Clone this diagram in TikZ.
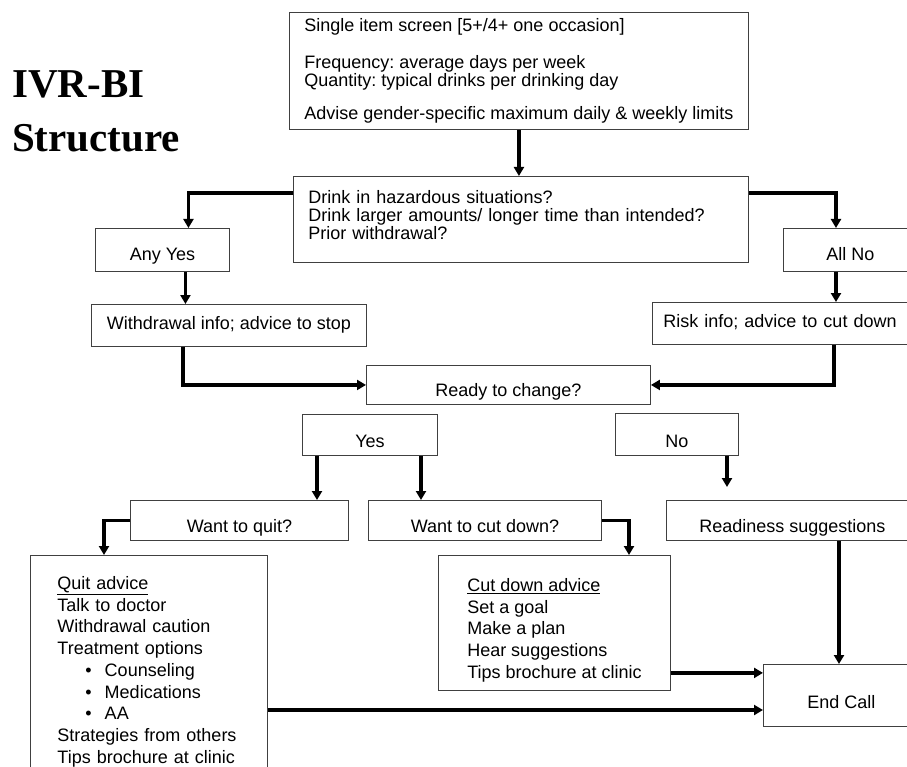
\documentclass[tikz,border=0pt]{standalone}
\usepackage{fontspec}
\usetikzlibrary{arrows.meta}
\newfontfamily\arialfont{Liberation Sans}
\newfontfamily\timesfont{Liberation Serif}

\begin{document}
\begin{tikzpicture}[x=1pt, y=1pt,
  box/.style={draw=black!75, line width=0.9pt, anchor=north west, inner ysep=0pt,
    text depth=8pt, font=\arialfont\fontsize{18}{18}\selectfont\frenchspacing},
  listbox/.style={box, align=left, font=\arialfont\fontsize{18}{21.75}\selectfont\frenchspacing},
  arr/.style={line width=3.3pt, -{Triangle[length=9pt,width=10pt]}},
  title/.style={anchor=base west, align=left, inner sep=0pt,
    font=\timesfont\bfseries\fontsize{41}{54}\selectfont}]
 \useasboundingbox (0,0) rectangle (907,-767);
 \clip (0,0) rectangle (907,-767);

 \node[title] (title) at (12,-152) {IVR-BI\\Structure};

 \node[box, align=left, minimum width=459pt, text height=107pt, text depth=10pt] (screen) at (289,-12)
   {Single item screen [5+/4+ one occasion]\\[19pt]
    Frequency: average days per week\\
    Quantity: typical drinks per drinking day\\[15pt]
    Advise gender-specific maximum daily \& weekly limits};
 \node[box, align=left, text width=425pt, inner xsep=15pt, text height=27pt, text depth=59pt] (hazard) at (293,-176)
   {Drink in hazardous situations?\\
    Drink larger amounts/ longer time than intended?\\
    Prior withdrawal?};

 \node[box, minimum width=134pt, text height=32pt, text depth=11pt] (anyyes) at (95,-228) {Any Yes};
 \node[box, minimum width=134pt, text height=32pt, text depth=11pt] (allno)  at (783,-228) {All No};
 \node[box, minimum width=275pt, text height=25pt, text depth=17pt] (withdraw) at (91,-304) {Withdrawal info; advice to stop};
 \node[box, align=left, text width=256pt, inner xsep=11pt, text height=25pt, text depth=17pt] (risk) at (652,-302) {Risk info; advice to cut down};
 \node[box, minimum width=284pt, text height=31pt] (ready) at (366,-365) {Ready to change?};
 \node[box, minimum width=135pt, text height=33pt] (yes) at (302,-414) {Yes};
 \node[box, minimum width=123pt, text height=34pt] (no)  at (615,-413) {No};
 \node[box, minimum width=218pt, text height=32pt] (wquit)    at (130,-500) {Want to quit?};
 \node[box, minimum width=233pt, text height=32pt] (wcut)     at (368,-500) {Want to cut down?};
 \node[box, minimum width=252pt, text height=32pt] (readysug) at (666,-500) {Readiness suggestions};

 \node[listbox, text width=183pt, inner xsep=27pt, text height=34pt, text depth=201pt] (quit) at (30,-555)
   {\underline{Quit advice}\\
    Talk to doctor\\
    Withdrawal caution\\
    Treatment options\\
    \hspace*{28pt}\textbullet\hspace{13pt}Counseling\\
    \hspace*{28pt}\textbullet\hspace{13pt}Medications\\
    \hspace*{28pt}\textbullet\hspace{13pt}AA\\
    Strategies from others\\
    Tips brochure at clinic};
 \node[listbox, minimum width=232pt, text height=123pt, text depth=12pt] (cut) at (438,-555)
   {\underline{Cut down advice}\\
    Set a goal\\
    Make a plan\\
    Hear suggestions\\
    Tips brochure at clinic};
 \node[box, minimum width=156pt, text height=44pt, text depth=18pt] (endcall) at (763,-664) {End Call};

 \draw[arr] (screen.south) -- (screen.south |- hazard.north);
 \draw[arr] ([yshift=-17pt]hazard.north west) -| ([xshift=26pt]anyyes.north);
 \draw[arr] ([yshift=-17pt]hazard.north east) -| ([xshift=53pt]allno.north west);
 \draw[arr] ([xshift=23pt]anyyes.south) -- ([xshift=23pt]anyyes.south |- withdraw.north);
 \draw[arr] ([xshift=53pt]allno.south west) -- ([xshift=53pt]allno.south west |- risk.north);
 \draw[arr] ([xshift=92pt]withdraw.south west) |- (ready.west);
 \draw[arr] ([xshift=182pt]risk.south west) |- (ready.east);
 \draw[arr] ([xshift=15pt]yes.south west) -- ([xshift=15pt]yes.south west |- wquit.north);
 \draw[arr] ([xshift=119pt]yes.south west) -- ([xshift=119pt]yes.south west |- wcut.north);
 \draw[arr, shorten >=13pt] ([xshift=112pt]no.south west) -- ([xshift=112pt]no.south west |- readysug.north);
 \draw[arr] (wquit.west) -| ([xshift=74pt]quit.north west);
 \draw[arr] (wcut.east) -| ([xshift=191pt]cut.north west);
 \draw[arr] ([yshift=18pt]cut.south east) -- ([yshift=18pt]cut.south east -| endcall.west);
 \draw[arr] ([yshift=-155pt]quit.north east) -- ([yshift=-155pt]quit.north east -| endcall.west);
 \draw[arr] ([xshift=173pt]readysug.south west) -- ([xshift=173pt]readysug.south west |- endcall.north);
\end{tikzpicture}
\end{document}
